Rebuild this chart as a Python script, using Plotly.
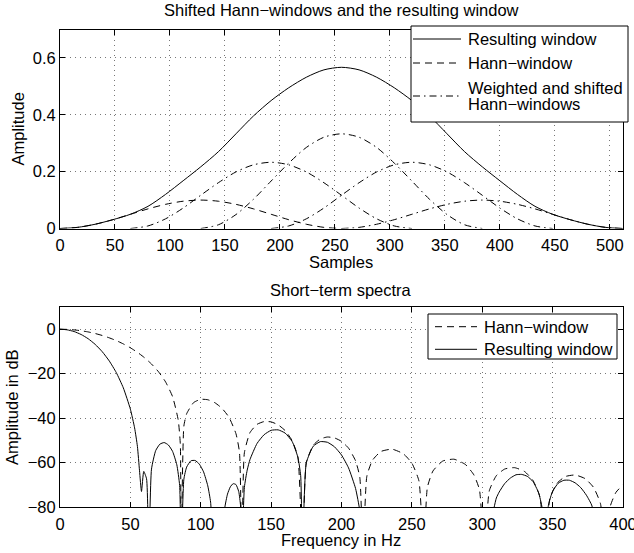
import plotly.graph_objects as go

# ---- top panel: shifted Hann windows ----
samples = [0, 16, 32, 48, 64, 80, 96, 112, 128, 144, 160, 176, 192, 208, 224, 240, 256,
           272, 288, 304, 320, 336, 352, 368, 384, 400, 416, 432, 448, 464, 480, 496, 512]
resulting = [0, 0.004, 0.015, 0.031, 0.050, 0.078, 0.120, 0.168, 0.217, 0.270, 0.333,
             0.396, 0.450, 0.495, 0.532, 0.558, 0.567, 0.558, 0.532, 0.495, 0.450, 0.396,
             0.333, 0.270, 0.217, 0.168, 0.120, 0.078, 0.050, 0.031, 0.015, 0.004, 0]

win1_x = [0, 16, 32, 48, 64, 80, 96, 112, 128, 144, 160, 176, 192, 208, 224, 240, 256]
win2_x = [64, 80, 96, 112, 128, 144, 160, 176, 192, 208, 224, 240, 256, 272, 288, 304, 320]
win3_x = [128, 144, 160, 176, 192, 208, 224, 240, 256, 272, 288, 304, 320, 336, 352, 368, 384]
win4_x = [192, 208, 224, 240, 256, 272, 288, 304, 320, 336, 352, 368, 384, 400, 416, 432, 448]
win5_x = [256, 272, 288, 304, 320, 336, 352, 368, 384, 400, 416, 432, 448, 464, 480, 496, 512]
win_small = [0, 0.004, 0.015, 0.031, 0.050, 0.069, 0.085, 0.096, 0.100, 0.096, 0.085,
             0.069, 0.050, 0.031, 0.015, 0.004, 0]
win_mid = [0, 0.009, 0.034, 0.072, 0.117, 0.161, 0.199, 0.224, 0.233, 0.224, 0.199,
           0.161, 0.117, 0.072, 0.034, 0.009, 0]
win_big = [0, 0.013, 0.049, 0.103, 0.167, 0.230, 0.285, 0.321, 0.333, 0.321, 0.285,
           0.230, 0.167, 0.103, 0.049, 0.013, 0]

# ---- bottom panel: short-term spectra in dB (-100 = notch below the axis) ----
hann_f = [0, 5, 10, 15, 20, 25, 30, 35, 40, 45, 50, 55, 60, 65, 70, 75, 80, 84, 85.5, 86.1,
          88, 90, 95, 100, 105, 110, 115, 120, 125, 127.5, 129.2,
          131, 135, 140, 145, 150, 155, 160, 165, 169, 172.3,
          175, 180, 185, 190, 195, 200, 205, 210, 213, 215.3,
          218, 222, 228, 236, 244, 250, 255, 258.4,
          261, 265, 272, 280, 288, 294, 298, 301.5,
          305, 310, 316, 323, 330, 336, 341, 344.5,
          348, 353, 359, 366, 373, 379, 384, 387.6,
          391, 395, 400]
hann_db = [0, -0.08, -0.30, -0.68, -1.22, -1.93, -2.81, -3.88, -5.12, -6.62, -8.36, -10.39,
           -12.79, -15.65, -19.16, -23.70, -30.37, -40.9, -51.9, -100,
           -43.6, -38.0, -32.97, -31.55, -31.73, -33.06, -35.53, -39.55, -46.99, -55.3, -100,
           -55.6, -46.5, -42.8, -41.56, -41.7, -43.04, -45.64, -50.2, -57.5, -100,
           -60.0, -52.15, -49.37, -48.5, -48.9, -50.45, -53.5, -59.25, -66.6, -100,
           -66.2, -58.97, -55.02, -53.99, -56.08, -60.29, -68.2, -100,
           -71.2, -63.77, -59.3, -58.5, -60.85, -65.5, -72.2, -100,
           -72.7, -65.9, -62.9, -62.3, -64.0, -67.99, -75.5, -100,
           -76.35, -69.4, -66.3, -65.6, -67.2, -71.1, -78.5, -100,
           -79.6, -73.4, -70.0]

res_f = [0, 5, 10, 15, 20, 25, 30, 35, 40, 45, 50, 53, 55, 56.5, 57.9, 59.5, 61.5, 63.1,
         65, 68, 71, 74, 77, 80, 83, 85, 86.1,
         88, 90, 93, 96, 99, 102, 105, 107, 109.2, 112, 114.9,
         117, 119, 121, 123, 125, 127, 128.3, 129.2,
         131, 133, 135, 140, 145, 150, 155, 160, 165, 169, 171, 172.3,
         175, 180, 185, 190, 195, 200, 205, 210, 213, 215.3,
         260, 305, 310, 312, 316, 320, 324, 328, 332, 336, 340, 342.5, 344.5,
         347, 350, 354, 358, 362, 366, 370, 374, 378, 380, 400]
res_db = [0, -0.26, -1.04, -2.37, -4.27, -6.83, -10.11, -14.27, -19.53, -26.4, -35.98, -44.4,
          -52.7, -63.7, -73.0, -64.0, -67.3, -100,
          -62.95, -54.6, -51.7, -51.0, -52.1, -55.0, -61.0, -70.3, -100,
          -67.5, -62.0, -59.2, -59.06, -60.7, -64.2, -70.5, -77.8, -100, -85, -100,
          -80.6, -74.2, -70.95, -69.5, -69.9, -73.1, -79.5, -100,
          -71.2, -63.4, -58.6, -51.4, -47.47, -45.5, -45.29, -46.76, -50.6, -57.6, -65.9, -100,
          -60.1, -52.6, -50.58, -50.88, -52.9, -56.6, -62.4, -71.7, -81.7, -100,
          -100, -86.7, -75.95, -73.3, -69.4, -66.97, -65.5, -65.34, -66.2, -68.5, -73.5, -80.3, -100,
          -79.25, -72.9, -69.3, -67.97, -67.98, -69.14, -71.3, -74.7, -79.6, -100, -100]

FONT = "Liberation Sans, Arial, Helvetica, sans-serif"
FS = 16.5
DASH = "7px,5px"
DASHDOT = "7px,4px,1.5px,4px"

# plot area in pixels: x 60..623, y 29..507
L, R, T, B = 60, 11, 29, 46
W, H = 634, 553


def px(x):
    return (x - L) / (W - L - R)


def py(y):
    return (H - B - y) / (H - T - B)


def line(x, y, dash, xa, ya, smooth=0.8):
    return go.Scatter(x=x, y=y, mode="lines", showlegend=False, xaxis=xa, yaxis=ya,
                      line=dict(color="black", width=1, dash=dash,
                                shape="spline", smoothing=smooth))


fig = go.Figure()
fig.add_trace(line(samples, resulting, "solid", "x", "y"))
fig.add_trace(line(win1_x, win_small, DASH, "x", "y"))
fig.add_trace(line(win2_x, win_mid, DASHDOT, "x", "y"))
fig.add_trace(line(win3_x, win_big, DASHDOT, "x", "y"))
fig.add_trace(line(win4_x, win_mid, DASHDOT, "x", "y"))
fig.add_trace(line(win5_x, win_small, DASHDOT, "x", "y"))
fig.add_trace(line(hann_f, hann_db, DASH, "x2", "y2", smooth=0.5))
fig.add_trace(line(res_f, res_db, "solid", "x2", "y2", smooth=0.5))

axis = dict(showline=True, linecolor="black", linewidth=1, mirror="ticks",
            ticks="inside", ticklen=5, tickcolor="black", showgrid=True,
            gridcolor="#777777", griddash="1px,4px", gridwidth=1, zeroline=False,
            automargin=False, ticklabeloverflow="allow",
            tickfont=dict(family=FONT, size=FS, color="black"))

fig.update_layout(
    width=W, height=H,
    margin=dict(l=L, r=R, t=T, b=B, autoexpand=False),
    paper_bgcolor="white", plot_bgcolor="white",
    font=dict(family=FONT, size=FS, color="black"),
    xaxis=dict(axis, domain=[0, 1], range=[0, 512], ticklabelstandoff=2,
               tickvals=[0, 50, 100, 150, 200, 250, 300, 350, 400, 450, 500], anchor="y"),
    yaxis=dict(axis, domain=[py(228.5), py(29.5)], range=[0, 0.7],
               tickvals=[0, 0.2, 0.4, 0.6], anchor="x"),
    xaxis2=dict(axis, domain=[0, 1], range=[0, 400], ticklabelstandoff=2,
                tickvals=[0, 50, 100, 150, 200, 250, 300, 350, 400], anchor="y2"),
    yaxis2=dict(axis, domain=[0, py(307)], range=[-80, 10],
                tickvals=[0, -20, -40, -60, -80], anchor="x2"),
)


def text(s, x, y, ang=0, anchor="center"):
    fig.add_annotation(text=s, x=px(x), y=py(y), xref="paper", yref="paper",
                       showarrow=False, textangle=ang, xanchor=anchor, yanchor="middle",
                       font=dict(family=FONT, size=FS, color="black"))


text("Shifted Hann\u2212windows and the resulting window", 341, 10)
text("Samples", 341, 262)
text("Short\u2212term spectra", 341, 289.5)
text("Frequency in Hz", 341, 540)
text("Amplitude", 17.5, 129, -90)
text("Amplitude in dB", 12, 407, -90)


def legend_box(x0, y0, x1, y1):
    fig.add_shape(type="rect", xref="paper", yref="paper", x0=px(x0), x1=px(x1),
                  y0=py(y1), y1=py(y0), fillcolor="white",
                  line=dict(color="black", width=1), layer="above")


def legend_entry(x0, x1, y, dash, labels, ty):
    fig.add_shape(type="line", xref="paper", yref="paper", x0=px(x0), x1=px(x1),
                  y0=py(y), y1=py(y), line=dict(color="black", width=1, dash=dash),
                  layer="above")
    for lab, yy in zip(labels, ty):
        text(lab, x1 + 5, yy, anchor="left")


legend_box(411, 26, 628, 122)
legend_entry(413, 461, 39, "solid", ["Resulting window"], [39])
legend_entry(413, 461, 63, DASH, ["Hann\u2212window"], [63])
legend_entry(413, 461, 96, DASHDOT, ["Weighted and shifted", "Hann\u2212windows"],
             [87.5, 104.5])

legend_box(428, 314, 617, 359)
legend_entry(435, 477, 326.7, DASH, ["Hann\u2212window"], [326.7])
legend_entry(435, 477, 349.3, "solid", ["Resulting window"], [349.3])

# the page body has a default 8px margin; drop it so the figure sits at the window corner
fig.write_html("out.html", config={"displayModeBar": False},
               post_script="document.body.style.margin = '0px';")
